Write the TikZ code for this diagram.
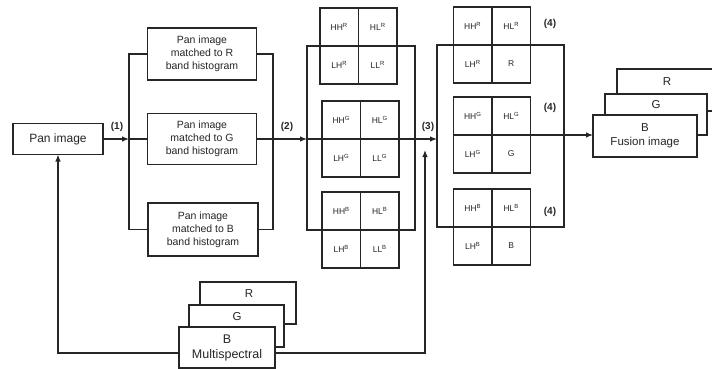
\documentclass[tikz,border=0pt]{standalone}
\usepackage{fontspec}
\setmainfont{Liberation Sans}
\usetikzlibrary{arrows.meta}
\newcommand{\wgrid}[7]{%
  \node[cell, anchor=south east] (#1a) at (#2,#3) {#4};
  \node[cell, anchor=south west] (#1b) at (#2,#3) {#5};
  \node[cell, anchor=north east] (#1c) at (#2,#3) {#6};
  \node[cell, anchor=north west] (#1d) at (#2,#3) {#7};
}
\begin{document}
\begin{tikzpicture}[x=1pt,y=-1pt,line width=1.2pt,color=black!85,
  box/.style={draw, fill=white, align=center, inner sep=0pt, outer sep=0pt,
    font=\fontsize{10.5}{13}\selectfont},
  cell/.style={draw, fill=white, minimum width=38.5, minimum height=38,
    inner sep=0pt, outer sep=0pt, font=\fontsize{8.5}{10}\selectfont},
  lab/.style={font=\bfseries\fontsize{10}{12}\selectfont},
  arr/.style={-{Latex[length=7pt,width=5.5pt]}},
  txt/.style={inner sep=0pt, font=\fontsize{11.5}{13}\selectfont}]
\useasboundingbox (0,0) rectangle (712,369);
\clip (0,0) rectangle (712,369);
\fill[white] (0,0) rectangle (712,369);

% Pan image
\node[box, minimum width=90, minimum height=31, font=\fontsize{12}{14}\selectfont] (pan) at (58,139) {Pan image};

% matched boxes
\node[box, minimum width=109, minimum height=52] (mR) at (202,54) {Pan image\\matched to R\\band histogram};
\node[box, minimum width=109, minimum height=51] (mG) at (202,139) {Pan image\\matched to G\\band histogram};
\node[box, minimum width=110, minimum height=53] (mB) at (203,229.5) {Pan image\\matched to B\\band histogram};

% left bus
\coordinate (b1t) at (129,54);
\coordinate (b1m) at (129,139);
\coordinate (b1b) at (129,229.5);
\draw (mR.west) -- (b1t) -- (b1b) -- (mB.west);
\draw[arr] (pan.east) -- (b1m);
\draw (b1m) -- (mG.west);
\node[lab] (l1) at (117,127) {(1)};

% right bus
\coordinate (b2t) at (273,54);
\coordinate (b2m) at (273,139);
\coordinate (b2b) at (273,229.5);
\draw (mR.east) -- (b2t) -- (b2b) -- (mB.east);
\draw (mG.east) -- (b2m);
\node[lab] (l2) at (287,127) {(2)};

% column 2
\coordinate (c2w) at (307,139);
\coordinate (c2e) at (415,139);
\draw (307,46) rectangle (415,230);
\draw[arr] (b2m) -- (c2w);
\wgrid{gR}{358.5}{46}{HH\textsuperscript{R}}{HL\textsuperscript{R}}{LH\textsuperscript{R}}{LL\textsuperscript{R}}
\wgrid{gG}{360.5}{139}{HH\textsuperscript{G}}{HL\textsuperscript{G}}{LH\textsuperscript{G}}{LL\textsuperscript{G}}
\wgrid{gB}{360.5}{230}{HH\textsuperscript{B}}{HL\textsuperscript{B}}{LH\textsuperscript{B}}{LL\textsuperscript{B}}
\draw (c2w) -- (c2e);

% column 3
\coordinate (c3w) at (437,139);
\coordinate (c3e) at (564,135);
\draw[arr] (c2e) -- (c3w);
\node[lab] (l3) at (428,127) {(3)};
\draw (437,45) rectangle (564,227);
\wgrid{hR}{492}{45}{HH\textsuperscript{R}}{HL\textsuperscript{R}}{LH\textsuperscript{R}}{R}
\wgrid{hG}{492}{135}{HH\textsuperscript{G}}{HL\textsuperscript{G}}{LH\textsuperscript{G}}{G}
\wgrid{hB}{492}{227}{HH\textsuperscript{B}}{HL\textsuperscript{B}}{LH\textsuperscript{B}}{B}
\draw (hGb.south east) -- (c3e);
\node[lab] (l4a) at (550,24) {(4)};
\node[lab] (l4b) at (550,108) {(4)};
\node[lab] (l4c) at (550,212) {(4)};

% fusion stack
\node[box, minimum width=100, minimum height=42, anchor=north west] (fR) at (617,69) {};
\node[txt] (fRt) at (667,82) {R};
\node[box, minimum width=102, minimum height=41, anchor=north west] (fG) at (605,94) {};
\node[txt] (fGt) at (656,105) {G};
\node[box, minimum width=104, minimum height=42, anchor=north west, font=\fontsize{11.5}{14}\selectfont] (fB) at (593,115) {B\\Fusion image};
\coordinate (fin) at (593,135);
\draw[arr] (c3e) -- (fin);

% multispectral stack
\node[box, minimum width=96, minimum height=42, anchor=north west] (msR) at (200,282) {};
\node[txt] (msRt) at (249,294) {R};
\node[box, minimum width=95, minimum height=42, anchor=north west] (msG) at (189,305) {};
\node[txt] (msGt) at (237,317) {G};
\node[box, minimum width=96, minimum height=41, anchor=north west, font=\fontsize{12.5}{15}\selectfont] (msB) at (179,327) {B\\Multispectral};

\coordinate (msl) at (179,353);
\coordinate (msr) at (275,353);
\coordinate (up) at (425,150);
\draw[arr] (msl) -| (pan.south);
\draw[arr] (msr) -| (up);
\end{tikzpicture}
\end{document}
